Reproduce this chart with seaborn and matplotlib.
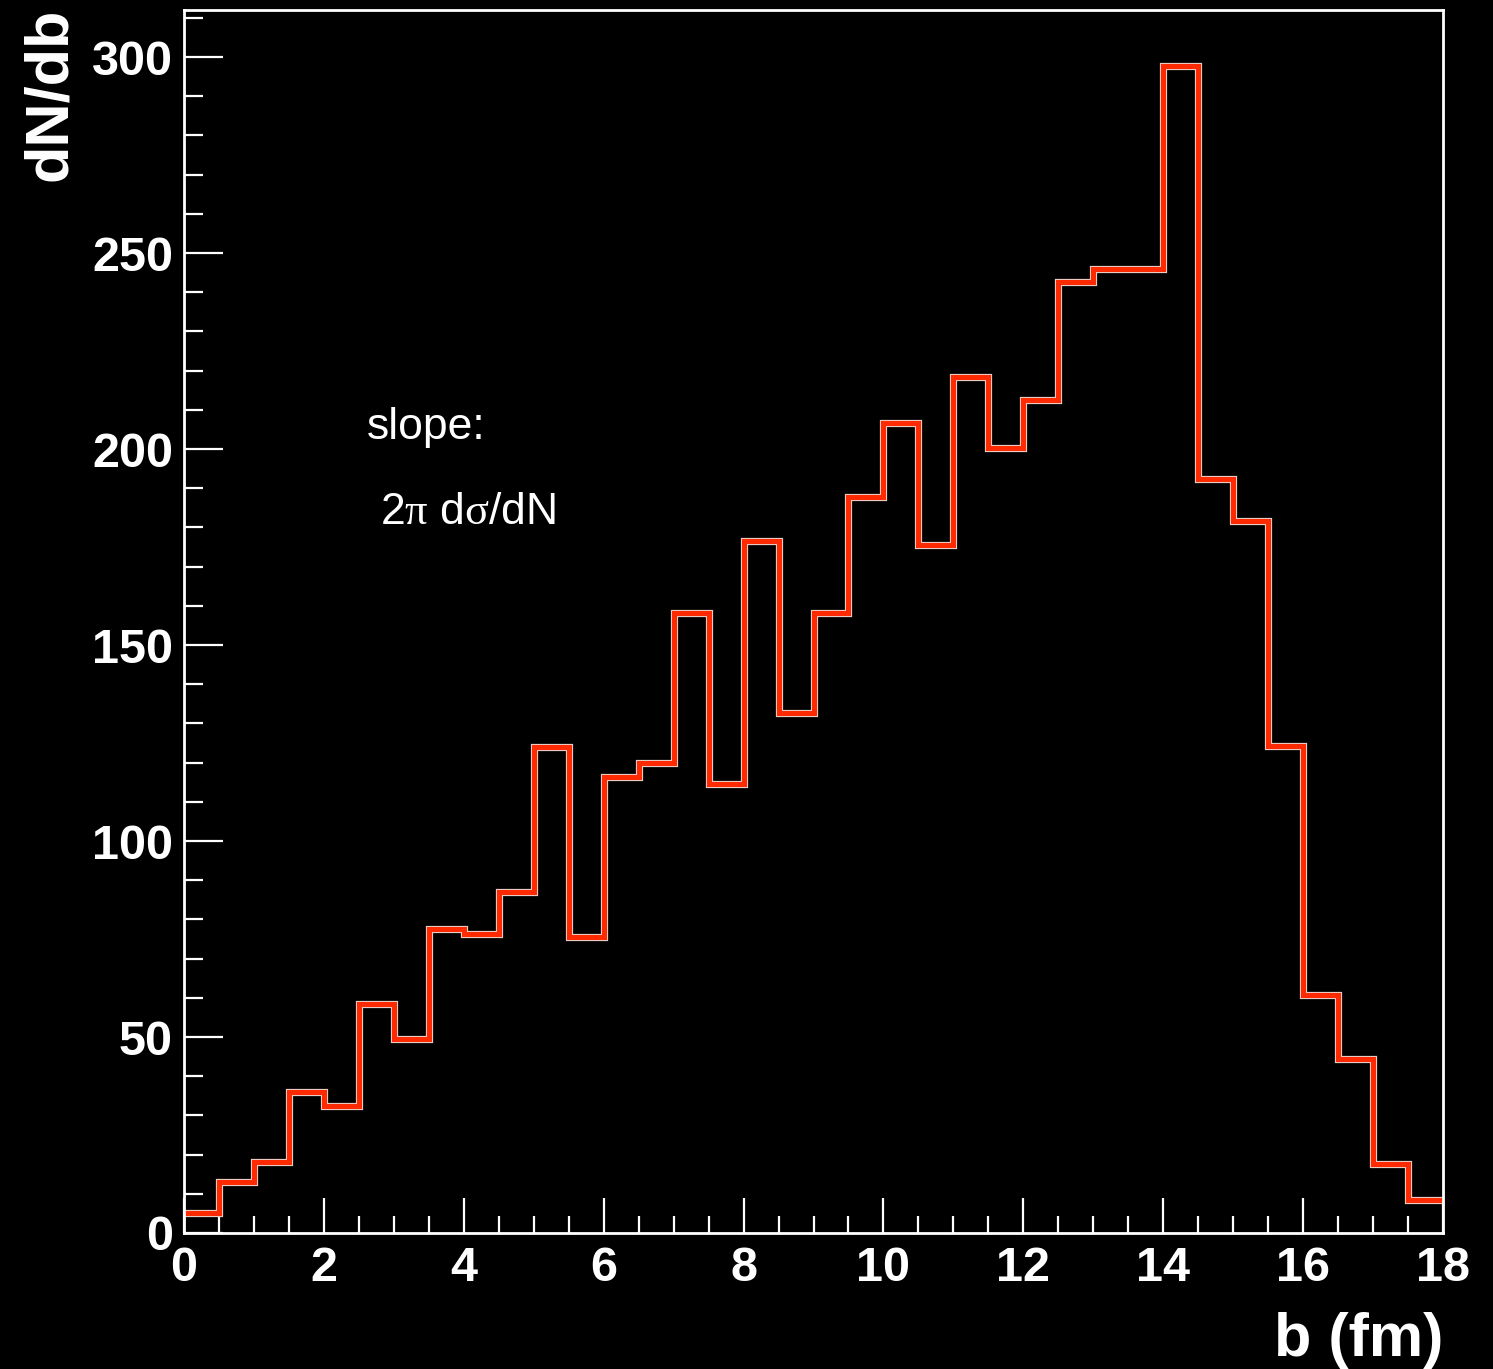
import numpy as np
import pandas as pd
import seaborn as sns
import matplotlib
matplotlib.use("Agg")
import matplotlib.pyplot as plt
import matplotlib.patheffects as pe
from matplotlib.ticker import MultipleLocator

# ---- data ----
bin_edges = [i * 0.5 for i in range(37)]          # 0 .. 18 fm, 36 bins
counts = [5.0, 13.0, 18.0, 36.0, 32.3, 58.5, 49.5, 77.6, 76.2, 87.0,
          124.0, 75.5, 116.4, 119.8, 158.2, 114.5, 176.5, 132.6, 158.1, 187.7,
          206.6, 175.4, 218.4, 200.2, 212.4, 242.6, 245.8, 245.8, 297.8, 192.4,
          181.7, 124.2, 60.7, 44.3, 17.5, 8.5]
x_ticks = [0, 2, 4, 6, 8, 10, 12, 14, 16, 18]
y_ticks = [0, 50, 100, 150, 200, 250, 300]
x_label = "b (fm)"
y_label = "dN/db"
note_line1 = "slope:"
note_line2 = r"2$\mathrm{\pi}$ d$\mathrm{\sigma}$/dN"

centers = [(bin_edges[i] + bin_edges[i + 1]) / 2 for i in range(len(counts))]
df = pd.DataFrame({"b": centers, "w": counts})

sns.set_theme(style="ticks")
plt.rcParams["font.family"] = ["Liberation Sans", "DejaVu Sans"]
plt.rcParams["mathtext.fontset"] = "custom"
plt.rcParams["mathtext.rm"] = "Liberation Serif"
plt.rcParams["mathtext.it"] = "Liberation Serif:italic"

W, H = 1493, 1369
fig = plt.figure(figsize=(W / 100, H / 100), dpi=100, facecolor="black")
ax = fig.add_axes([184 / W, 1 - 1233 / H, (1443 - 184) / W, (1233 - 10) / H])
ax.set_facecolor("black")

sns.histplot(data=df, x="b", weights="w", bins=bin_edges, element="step",
             fill=False, color="#ff2a00", linewidth=3.6, ax=ax,
             path_effects=[pe.Stroke(linewidth=5.2, foreground="#e9c9c2"), pe.Normal()],
             solid_joinstyle="miter")

ax.set_xlim(0, 18)
ax.set_ylim(0, 312)
ax.set_xticks(x_ticks)
ax.set_yticks(y_ticks)
ax.set_xticklabels([str(t) for t in x_ticks])
ax.set_yticklabels([str(t) for t in y_ticks])
ax.xaxis.set_minor_locator(MultipleLocator(0.5))
ax.yaxis.set_minor_locator(MultipleLocator(10))

for s in ax.spines.values():
    s.set_color("white")
    s.set_linewidth(2.0)
    s.set_visible(True)

ax.tick_params(axis="x", which="major", direction="in", length=25, width=1.6,
               color="white", labelcolor="white", labelsize=35, pad=9.5,
               top=False, bottom=True)
ax.tick_params(axis="x", which="minor", direction="in", length=12.5, width=1.6,
               color="white", top=False, bottom=True)
ax.tick_params(axis="y", which="major", direction="in", length=28, width=1.6,
               color="white", labelcolor="white", labelsize=35, pad=8,
               left=True, right=False)
ax.tick_params(axis="y", which="minor", direction="in", length=14, width=1.6,
               color="white", left=True, right=False)
for lab in ax.get_xticklabels() + ax.get_yticklabels():
    lab.set_fontweight("bold")

ax.set_xlabel("")
ax.set_ylabel("")
fig.text(1443 / W, 1 - 1356 / H, x_label, color="white", fontsize=44,
         fontweight="bold", ha="right", va="baseline")
fig.text(22 / W, 1 - 8 / H, y_label, color="white", fontsize=44,
         fontweight="bold", rotation=90, ha="right", va="top",
         rotation_mode="anchor")

ax.text(2.61, 202.6, note_line1, color="white", fontsize=32, ha="left",
        va="baseline")
ax.text(2.80, 181.0, note_line2, color="white", fontsize=32, ha="left",
        va="baseline")

fig.savefig("out.png", dpi=100, facecolor="black")
